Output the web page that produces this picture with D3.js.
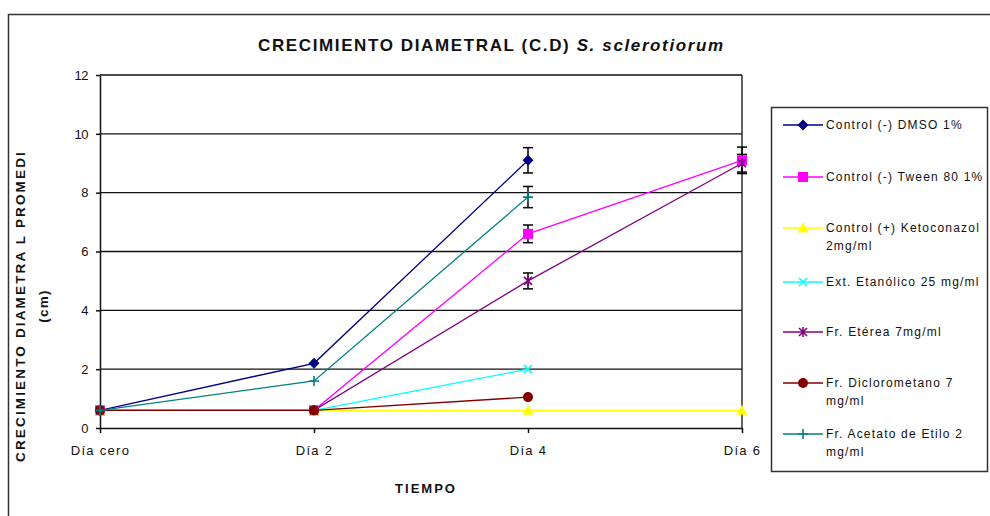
<!DOCTYPE html>
<html><head><meta charset="utf-8">
<script src="https://cdn.jsdelivr.net/npm/d3@7"></script>
<style>body{margin:0;background:#fff}svg{display:block}text{font-family:"Liberation Sans",Arial,sans-serif}</style>
</head><body>
<svg id="c" width="990" height="516"></svg>
<script>
const days = ["Día cero", "Día 2", "Día 4", "Día 6"];
const yTicks = [0, 2, 4, 6, 8, 10, 12];
const seriesNames = ["Control (-) DMSO 1%", "Control (-) Tween 80 1%", "Control (+) Ketoconazol|2mg/ml", "Ext. Etanólico 25 mg/ml", "Fr. Etérea 7mg/ml", "Fr. Diclorometano 7|mg/ml", "Fr. Acetato de Etilo 2|mg/ml"];
const colors = ["#000080", "#FF00FF", "#FFFF00", "#00FFFF", "#800080", "#800000", "#008080"];
const markers = ["diamond", "square", "triangle", "x", "star", "circle", "plus"];
const dmso = [0.6, 2.2, 9.1, null];
const tween = [0.6, 0.6, 6.6, 9.1];
const keto = [0.6, 0.6, 0.6, 0.6];
const etanol = [0.6, 0.6, 2.0, null];
const eterea = [0.6, 0.6, 5.0, 9.0];
const diclo = [0.6, 0.6, 1.05, null];
const acetato = [0.6, 1.6, 7.85, null];
const dmsoErr = [0, 0, 0.43, null];
const tweenErr = [0, 0, 0.3, 0.45];
const ketoErr = [0, 0, 0, 0];
const etanolErr = [0, 0, 0, null];
const etereaErr = [0, 0, 0.27, 0.3];
const dicloErr = [0, 0, 0, null];
const acetatoErr = [0, 0, 0.36, null];
const values = [dmso, tween, keto, etanol, eterea, diclo, acetato];
const errors = [dmsoErr, tweenErr, ketoErr, etanolErr, etereaErr, dicloErr, acetatoErr];

const svg = d3.select("#c");
const L = 100, R = 742, T = 75, B = 428;
const x = d3.scalePoint().domain(days).range([L, R]).padding(0);
const y = d3.scaleLinear().domain([0, 12]).range([B, T]);

// stretch a text (letter-spacing) so it spans a target width
function fitWidth(sel, target) {
  const node = sel.node();
  sel.attr("letter-spacing", 0);
  const w = node.getComputedTextLength();
  const n = node.textContent.length;
  sel.attr("letter-spacing", (target - w) / n);
}

// outer border
svg.append("rect").attr("x", 8.5).attr("y", 14.5).attr("width", 1000).attr("height", 520)
  .attr("fill", "none").attr("stroke", "#333").attr("stroke-width", 1.5);

// title
const title = svg.append("text").attr("x", 258).attr("y", 51).attr("font-size", 17).attr("font-weight", "bold")
  .attr("fill", "#111");
title.append("tspan").text("CRECIMIENTO  DIAMETRAL  (C.D) ");
title.append("tspan").attr("font-style", "italic").text("S. sclerotiorum");
fitWidth(title, 470);

// grid
svg.append("g").selectAll("line").data(yTicks.filter(d => d > 0)).join("line")
  .attr("x1", L).attr("x2", R).attr("y1", d => y(d)).attr("y2", d => y(d))
  .attr("stroke", "#111").attr("stroke-width", 1.3);
svg.append("line").attr("x1", R).attr("x2", R).attr("y1", T).attr("y2", B).attr("stroke", "#111").attr("stroke-width", 1.3);

// axes
const yAxis = svg.append("g").attr("transform", `translate(${L},0)`)
  .call(d3.axisLeft(y).tickValues(yTicks).tickSize(4).tickPadding(8).tickSizeOuter(0));
const xAxis = svg.append("g").attr("transform", `translate(0,${B})`)
  .call(d3.axisBottom(x).tickSize(5).tickPadding(13).tickSizeOuter(0));
[yAxis, xAxis].forEach(g => {
  g.select(".domain").attr("stroke", "#111").attr("stroke-width", 1.5);
  g.selectAll(".tick line").attr("stroke", "#111").attr("stroke-width", 1.5);
  g.selectAll("text").attr("font-family", "Liberation Sans, Arial, sans-serif").attr("font-size", 13).attr("fill", "#111");
});
xAxis.selectAll("text").attr("letter-spacing", 1.3);
yAxis.selectAll("text").attr("letter-spacing", -0.5);

// axis titles
svg.append("text").attr("x", 426).attr("y", 493).attr("text-anchor", "middle").attr("font-size", 13)
  .attr("font-weight", "bold").attr("letter-spacing", 2).attr("fill", "#111").text("TIEMPO");
const yl = svg.append("text").attr("transform", "translate(25,306) rotate(-90)").attr("text-anchor", "middle")
  .attr("font-size", 13.5).attr("font-weight", "bold").attr("fill", "#111");
const yl1 = yl.append("tspan").attr("x", 0).attr("dy", 0).text("CRECIMIENTO DIAMETRA L PROMEDI");
yl.append("tspan").attr("x", 0).attr("dy", 23).attr("letter-spacing", 1.2).text("(cm)");
{
  const n = yl1.node();
  const w = n.getComputedTextLength();
  yl1.attr("letter-spacing", (312 - w) / n.textContent.length);
}

// marker drawing
function drawMarker(g, type, color, cx, cy) {
  const s = g.append("g").attr("transform", `translate(${cx},${cy})`);
  if (type === "diamond") s.append("path").attr("d", "M0,-5.5L5.5,0L0,5.5L-5.5,0Z").attr("fill", color);
  else if (type === "square") s.append("rect").attr("x", -5).attr("y", -5).attr("width", 10).attr("height", 10).attr("fill", color);
  else if (type === "triangle") s.append("path").attr("d", "M0,-5.5L5.5,4.5L-5.5,4.5Z").attr("fill", color);
  else if (type === "circle") s.append("circle").attr("r", 5).attr("fill", color);
  else if (type === "x") s.append("path").attr("d", "M-4,-4L4,4M-4,4L4,-4").attr("stroke", color).attr("stroke-width", 1.6);
  else if (type === "star") s.append("path").attr("d", "M-4,-4L4,4M-4,4L4,-4M0,-5L0,5").attr("stroke", color).attr("stroke-width", 1.6);
  else if (type === "plus") s.append("path").attr("d", "M-5,0L5,0M0,-5L0,5").attr("stroke", color).attr("stroke-width", 1.6);
}

// lines
const line = d3.line().defined(d => d.v != null).x(d => x(d.day)).y(d => y(d.v));
values.forEach((vals, i) => {
  const pts = vals.map((v, j) => ({day: days[j], v}));
  svg.append("path").datum(pts).attr("d", line).attr("fill", "none").attr("stroke", colors[i]).attr("stroke-width", 1.3);
});
// error bars
values.forEach((vals, i) => {
  vals.forEach((v, j) => {
    const e = errors[i][j];
    if (v == null || !e) return;
    const cx = x(days[j]);
    const g = svg.append("g").attr("stroke", "#000").attr("stroke-width", 1.5);
    g.append("line").attr("x1", cx).attr("x2", cx).attr("y1", y(v + e)).attr("y2", y(v - e));
    [v + e, v - e].forEach(t => g.append("line").attr("x1", cx - 5).attr("x2", cx + 5).attr("y1", y(t)).attr("y2", y(t)));
  });
});
// markers
values.forEach((vals, i) => {
  const g = svg.append("g");
  vals.forEach((v, j) => { if (v != null) drawMarker(g, markers[i], colors[i], x(days[j]), y(v)); });
});

// legend
svg.append("rect").attr("x", 771.5).attr("y", 107.5).attr("width", 216).attr("height", 364)
  .attr("fill", "#fff").attr("stroke", "#333").attr("stroke-width", 1.5);
const legY = [125, 177, 228, 282, 332, 383, 434];
seriesNames.forEach((name, i) => {
  const g = svg.append("g");
  g.append("line").attr("x1", 783).attr("x2", 823).attr("y1", legY[i]).attr("y2", legY[i]).attr("stroke", colors[i]).attr("stroke-width", 1.5);
  drawMarker(g, markers[i], colors[i], 803, legY[i]);
  const t = g.append("text").attr("x", 826).attr("y", legY[i] + 4).attr("font-size", 12).attr("fill", "#111").attr("letter-spacing", 1.2);
  name.split("|").forEach((part, k) => t.append("tspan").attr("x", 826).attr("dy", k ? 18 : 0).text(part));
});
</script>
</body></html>
